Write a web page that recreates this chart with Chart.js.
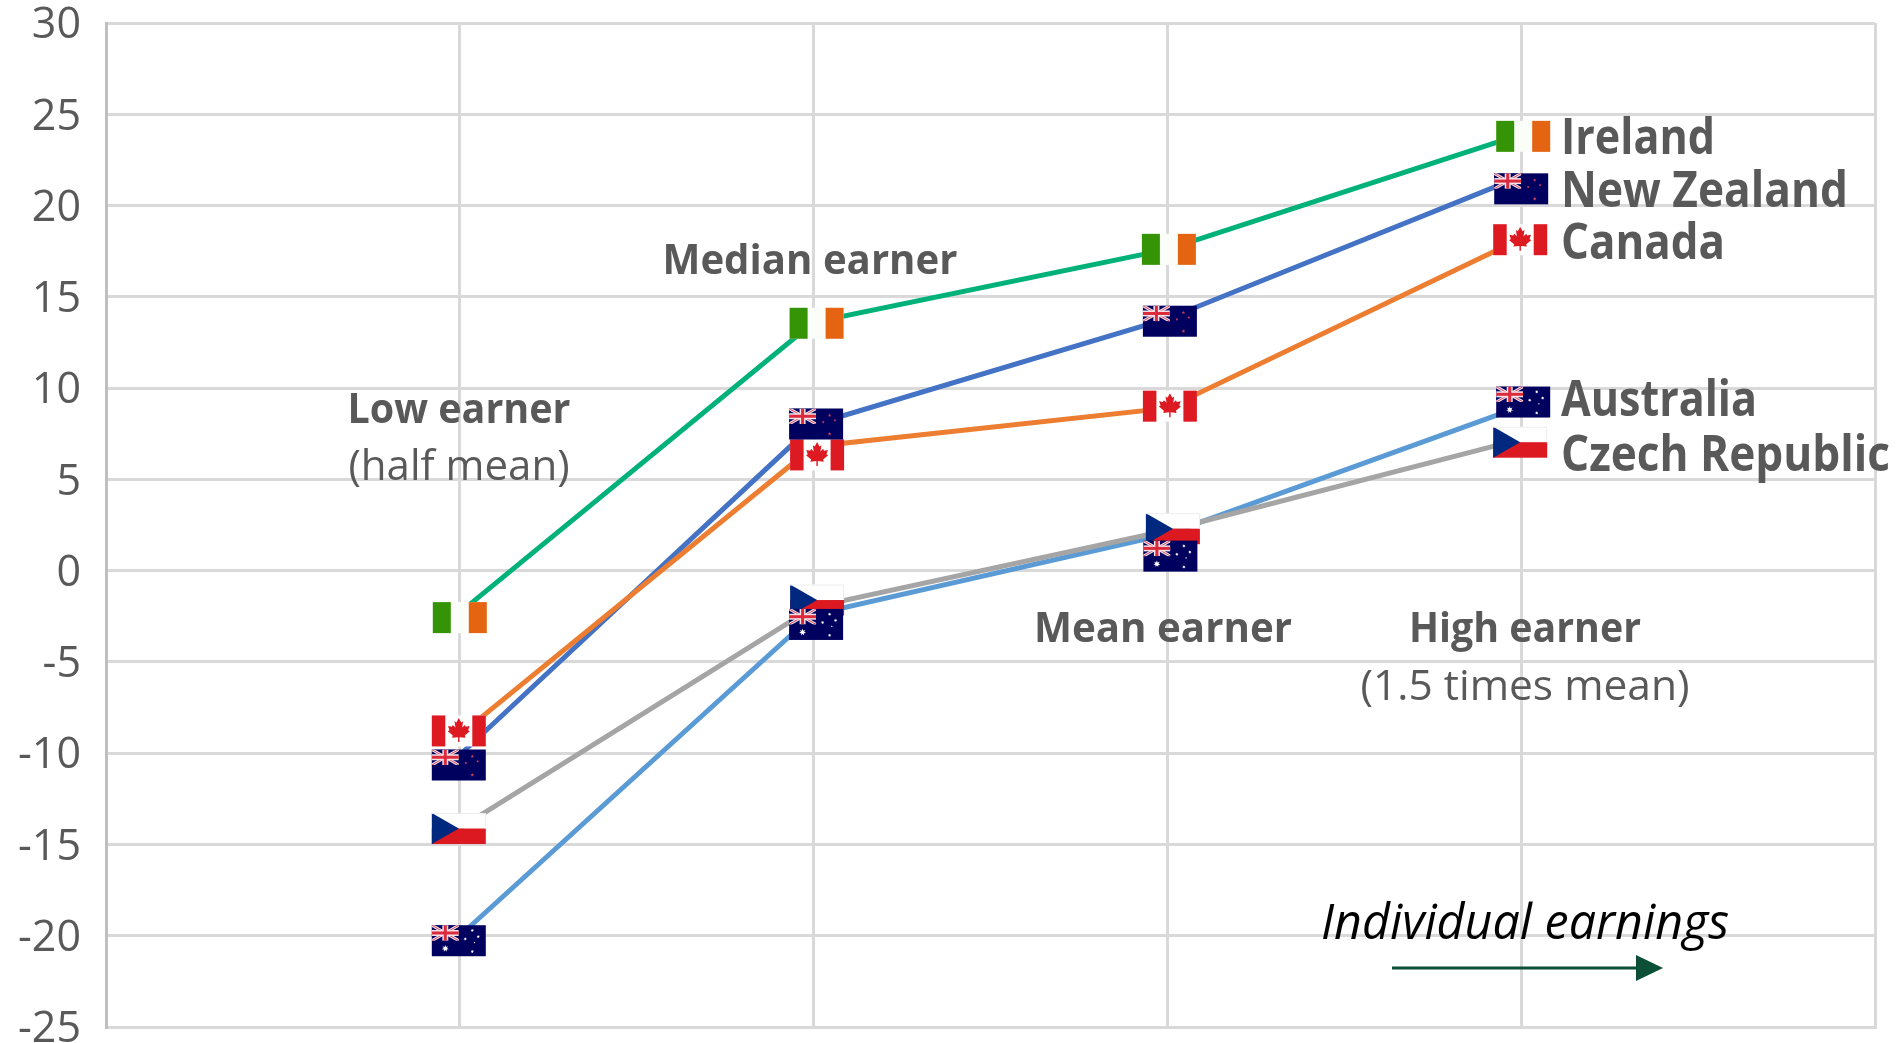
<!DOCTYPE html>
<html>
<head>
<meta charset="utf-8">
<title>Earnings chart</title>
<script src="https://cdn.jsdelivr.net/npm/chart.js@4"></script>
<style>
  html, body { margin: 0; padding: 0; background: #fff; overflow: hidden; }
  canvas { display: block; }
</style>
</head>
<body>
<canvas id="chart" width="1901" height="1043"></canvas>
<script>
// x positions on the axis: 0 and 5 are the empty outer columns
const earnerSlots = [1, 2, 3, 4];
const countries = ['Ireland', 'New Zealand', 'Canada', 'Australia', 'Czech Republic'];

const ireland = [-2.3, 13.6, 17.6, 23.9];
const newZealand = [-10.1, 8.0, 13.8, 21.6];
const canada = [-9.0, 6.8, 8.9, 18.2];
const australia = [-20.0, -2.4, 2.0, 9.0];
const czechRepublic = [-14.1, -2.0, 2.2, 7.2];

const seriesValues = [ireland, newZealand, canada, australia, czechRepublic];
const lineColors = ['#00B17A', '#4472C4', '#ED7D31', '#5B9BD5', '#A5A5A5'];

const yMin = -25;
const yMax = 30;
const yStep = 5;

// how far each flag sits from its point, so overlapping flags stay readable
const flagShiftX = {
  Ireland: [0, 3, 1.5, 2],
  'New Zealand': [-1, 2.5, 2.5, 0],
  Canada: [-1, 3.5, 2.5, -1],
  Australia: [-1, 2.5, 3, 2],
  'Czech Republic': [-1, 3.5, 5.5, -1],
};
const flagShiftY = {
  Ireland: [5, 0.9, 0, 2],
  'New Zealand': [10, -0.6, 2.5, 12.5],
  Canada: [-4, 8.4, -2, 1.3],
  Australia: [5, 10, 22, -4.3],
  'Czech Republic': [0.5, -7.1, -1.8, 3],
};
const FLAG_W = 54;
const FLAG_H = 31;

const GREY_TEXT = '#595959';
const BODY_FONT = '"Open Sans", sans-serif';

// text, left or centre x, baseline y, max width, font, align
const captions = [
  ['Ireland', 1561, 154, 154, 'bold 50px', 'left'],
  ['New Zealand', 1561, 207, 287, 'bold 50px', 'left'],
  ['Canada', 1561, 259, 164, 'bold 50px', 'left'],
  ['Australia', 1561, 416, 196, 'bold 50px', 'left'],
  ['Czech Republic', 1561, 471, 329, 'bold 50px', 'left'],
  ['Low earner', 459, 423, 223, 'bold 42px', 'center'],
  ['(half mean)', 459, 480, 223, '42px', 'center'],
  ['Median earner', 810, 274, 295, 'bold 42px', 'center'],
  ['Mean earner', 1163, 642, 258, 'bold 42px', 'center'],
  ['High earner', 1525, 642, 232, 'bold 42px', 'center'],
  ['(1.5 times mean)', 1525, 700, 329, '42.5px', 'center'],
];

function star(ctx, cx, cy, r, points, color) {
  ctx.fillStyle = color;
  ctx.beginPath();
  for (let i = 0; i < points * 2; i++) {
    const rad = i % 2 ? r * 0.45 : r;
    const a = -Math.PI / 2 + i * Math.PI / points;
    ctx.lineTo(cx + rad * Math.cos(a), cy + rad * Math.sin(a));
  }
  ctx.closePath();
  ctx.fill();
}

function unionJack(ctx, x, y, w, h) {
  ctx.save();
  ctx.beginPath();
  ctx.rect(x, y, w, h);
  ctx.clip();
  ctx.fillStyle = '#00005F';
  ctx.fillRect(x, y, w, h);
  ctx.strokeStyle = '#F3E3E8';
  ctx.lineWidth = 3;
  ctx.beginPath();
  ctx.moveTo(x, y); ctx.lineTo(x + w, y + h);
  ctx.moveTo(x + w, y); ctx.lineTo(x, y + h);
  ctx.stroke();
  ctx.strokeStyle = '#D8455F';
  ctx.lineWidth = 1;
  ctx.stroke();
  ctx.fillStyle = '#F3E3E8';
  ctx.fillRect(x + w / 2 - 3, y, 6, h);
  ctx.fillRect(x, y + h / 2 - 3, w, 6);
  ctx.fillStyle = '#DC2A3C';
  ctx.fillRect(x + w / 2 - 1.5, y, 3, h);
  ctx.fillRect(x, y + h / 2 - 1.5, w, 3);
  ctx.restore();
}

function mapleLeaf(ctx, cx, cy, s, color) {
  // leaf outline on a unit grid, stem at the bottom
  const half = [[0, -1], [0.2, -0.62], [0.36, -0.72], [0.28, -0.2], [0.5, -0.42], [0.58, -0.26],
    [0.9, -0.32], [0.78, 0.02], [0.92, 0.12], [0.5, 0.46], [0.56, 0.66], [0.06, 0.6], [0.06, 1]];
  ctx.fillStyle = color;
  ctx.beginPath();
  half.forEach(p => ctx.lineTo(cx + p[0] * s, cy + p[1] * s));
  half.slice().reverse().forEach(p => ctx.lineTo(cx - p[0] * s, cy + p[1] * s));
  ctx.closePath();
  ctx.fill();
}

const flagPainters = {
  Ireland(ctx, x, y, w, h) {
    ctx.fillStyle = '#FBFDF9';
    ctx.fillRect(x, y, w, h);
    ctx.fillStyle = '#359406';
    ctx.fillRect(x, y, w / 3, h);
    ctx.fillStyle = '#E46411';
    ctx.fillRect(x + w * 2 / 3, y, w / 3, h);
  },
  'New Zealand'(ctx, x, y, w, h) {
    ctx.fillStyle = '#00005F';
    ctx.fillRect(x, y, w, h);
    unionJack(ctx, x, y, w / 2, h / 2);
    const r = '#C8405A';
    star(ctx, x + w * 0.75, y + h * 0.22, 1.8, 5, r);
    star(ctx, x + w * 0.63, y + h * 0.44, 1.6, 5, r);
    star(ctx, x + w * 0.85, y + h * 0.38, 1.6, 5, r);
    star(ctx, x + w * 0.75, y + h * 0.82, 2, 5, r);
  },
  Canada(ctx, x, y, w, h) {
    ctx.fillStyle = '#FFFFFF';
    ctx.fillRect(x, y, w, h);
    ctx.fillStyle = '#DD1A22';
    ctx.fillRect(x, y, w / 4, h);
    ctx.fillRect(x + w * 3 / 4, y, w / 4, h);
    mapleLeaf(ctx, x + w / 2, y + h / 2 - 1, 12, '#DD1A22');
  },
  Australia(ctx, x, y, w, h) {
    ctx.fillStyle = '#00005F';
    ctx.fillRect(x, y, w, h);
    unionJack(ctx, x, y, w / 2, h / 2);
    star(ctx, x + w * 0.25, y + h * 0.75, 3.6, 7, '#FFFFFF');
    star(ctx, x + w * 0.75, y + h * 0.17, 1.8, 7, '#FFFFFF');
    star(ctx, x + w * 0.62, y + h * 0.44, 1.8, 7, '#FFFFFF');
    star(ctx, x + w * 0.86, y + h * 0.37, 1.8, 7, '#FFFFFF');
    star(ctx, x + w * 0.75, y + h * 0.85, 1.8, 7, '#FFFFFF');
    star(ctx, x + w * 0.79, y + h * 0.56, 1, 5, '#FFFFFF');
  },
  'Czech Republic'(ctx, x, y, w, h) {
    ctx.fillStyle = '#FFFFFF';
    ctx.fillRect(x, y, w, h / 2);
    ctx.fillStyle = '#DC1820';
    ctx.fillRect(x, y + h / 2, w, h / 2);
    ctx.fillStyle = '#00287F';
    ctx.beginPath();
    ctx.moveTo(x, y);
    ctx.lineTo(x + w / 2, y + h / 2);
    ctx.lineTo(x, y + h);
    ctx.closePath();
    ctx.fill();
    ctx.strokeStyle = '#EDEDED';
    ctx.lineWidth = 1;
    ctx.beginPath();
    ctx.moveTo(x, y + 0.5);
    ctx.lineTo(x + w - 0.5, y + 0.5);
    ctx.lineTo(x + w - 0.5, y + h / 2);
    ctx.stroke();
  },
};

const flagsPlugin = {
  id: 'flags',
  afterDatasetsDraw(chart) {
    const ctx = chart.ctx;
    // Czech Republic goes down first, the Australian flag overlaps it
    [4, 3, 2, 1, 0].forEach(d => {
      const name = countries[d];
      chart.getDatasetMeta(d).data.forEach((pt, i) => {
        const left = pt.x + flagShiftX[name][i] - FLAG_W / 2;
        const top = pt.y + flagShiftY[name][i] - FLAG_H / 2;
        flagPainters[name](ctx, left, top, FLAG_W, FLAG_H);
      });
    });
  },
};

const captionsPlugin = {
  id: 'captions',
  afterDraw(chart) {
    const ctx = chart.ctx;
    ctx.save();
    ctx.textBaseline = 'alphabetic';
    ctx.fillStyle = GREY_TEXT;
    captions.forEach(c => {
      ctx.font = c[4] + ' ' + BODY_FONT;
      ctx.textAlign = c[5];
      ctx.fillText(c[0], c[1], c[2], c[3]);
    });

    ctx.fillStyle = '#000000';
    ctx.font = 'italic 48.5px ' + BODY_FONT;
    ctx.textAlign = 'center';
    ctx.fillText('Individual earnings', 1525, 939, 408);

    // arrow under the caption
    ctx.strokeStyle = '#0B4F36';
    ctx.fillStyle = '#0B4F36';
    ctx.lineWidth = 3;
    ctx.beginPath();
    ctx.moveTo(1392, 968);
    ctx.lineTo(1640, 968);
    ctx.stroke();
    ctx.beginPath();
    ctx.moveTo(1636, 955);
    ctx.lineTo(1663, 968);
    ctx.lineTo(1636, 981);
    ctx.closePath();
    ctx.fill();
    ctx.restore();
  },
};

new Chart(document.getElementById('chart'), {
  type: 'line',
  data: {
    datasets: countries.map((name, i) => ({
      label: name,
      data: seriesValues[i].map((v, j) => ({ x: earnerSlots[j], y: v })),
      borderColor: lineColors[i],
      borderWidth: 5,
      pointRadius: 0,
      tension: 0,
      fill: false,
      order: countries.length - i,
    })),
  },
  options: {
    responsive: false,
    animation: false,
    layout: { padding: { top: 23, right: 26, bottom: 16, left: 0 } },
    plugins: { legend: { display: false }, tooltip: { enabled: false } },
    scales: {
      x: {
        type: 'linear',
        min: 0,
        max: 5,
        ticks: { display: false, stepSize: 1 },
        grid: { color: '#D9D9D9', lineWidth: 3, drawTicks: false },
        border: { color: '#D9D9D9', width: 3 },
      },
      y: {
        min: yMin,
        max: yMax,
        // the big tick labels must not push the plot area in
        afterFit(scale) {
          scale.width = 106;
          scale.paddingTop = 0;
          scale.paddingBottom = 0;
        },
        ticks: {
          stepSize: yStep,
          padding: 25,
          labelOffset: 3,
          color: GREY_TEXT,
          font: { family: BODY_FONT, size: 43 },
        },
        grid: { color: '#D9D9D9', lineWidth: 3, drawTicks: false },
        border: { color: '#BFBFBF', width: 3 },
      },
    },
  },
  plugins: [flagsPlugin, captionsPlugin],
});
</script>
</body>
</html>
